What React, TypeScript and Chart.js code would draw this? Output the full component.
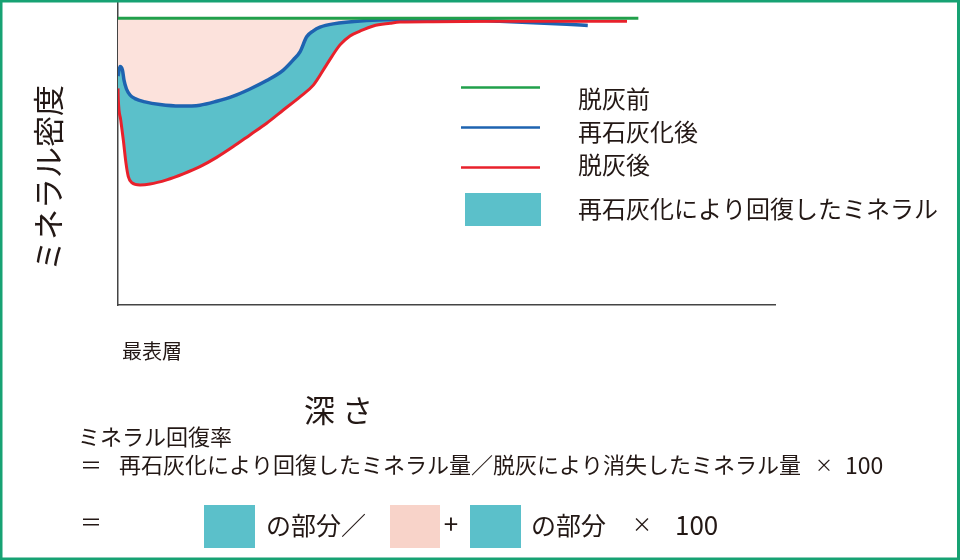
import React, { useEffect, useRef } from "react";
import { Chart, registerables } from "chart.js";

Chart.register(...registerables);

const FONT = "'Noto Sans CJK JP', 'Noto Sans', sans-serif";
const TEXT = "#231815";
const GREEN = "#21a04b";
const BLUE = "#1e63b0";
const RED = "#e8212b";
const CYAN = "#5bc0ca";
const PINK = "#fce2dc";
const PINK_BOX = "#f8d3c9";
const BORDER = "#17a273";

// Labels
const seriesLabels = ["脱灰前", "再石灰化後", "脱灰後"];
const areaLabel = "再石灰化により回復したミネラル";
const yTitle = "ミネラル密度";
const surfaceLabel = "最表層";
const xTitle = "深 さ";
const rateTitle = "ミネラル回復率";
const rateLine1 = "再石灰化により回復したミネラル量／脱灰により消失したミネラル量";
const partLabel1 = "の部分／";
const partLabel2 = "の部分";
const timesLabel = "×";
const hundredLabel = "100";

// Data: depth (0-100) vs mineral density (0-101)
const beforeDepth = [0, 79.2];
const beforeDensity = [95.6, 95.6];

const remDepth = [0, 0.3, 0.68, 0.91, 1.29, 1.83, 2.59, 4.11, 6.39, 9.44, 12.48, 15.02, 17.55, 20.09, 22.63, 25.16, 26.68, 27.7, 28.72, 29.73, 30.75, 32.77, 37.85, 42.92, 53.1, 58.1, 63.2, 68.3, 71.5];
const remDensity = [76.3, 79.5, 78.3, 75, 72, 70, 68.8, 67.7, 66.8, 66.3, 66.6, 67.9, 69.6, 72, 74.8, 78.3, 81.7, 84.4, 89.4, 91.4, 92.6, 93.7, 94.8, 95.2, 95, 94.6, 94.1, 93.6, 93.2];

const afterDepth = [0, 0.05, 0.41, 0.81, 1.22, 1.57, 2.09, 3.35, 4.87, 7.41, 9.94, 12.48, 15.02, 17.55, 20.09, 22.63, 25.16, 27.7, 29.73, 31.81, 33.79, 35.31, 36.83, 38.86, 41.4, 42.92, 47.95, 58.14, 68.34, 77.47];
const afterDensity = [72.2, 68.3, 61.7, 55, 47.2, 42.8, 40.8, 40, 40.3, 41.7, 43.7, 46.1, 49.2, 52.8, 56.7, 60.6, 65, 69.4, 73.3, 80.3, 86.7, 89.7, 91.3, 93, 93.9, 94.3, 94.4, 94.55, 94.55, 94.55];

const toPoints = (xs: number[], ys: number[]) => xs.map((x, i) => ({ x, y: ys[i] }));

const overlay = {
  id: "overlay",
  beforeDraw(chart: any) {
    const ctx = chart.ctx;
    ctx.save();
    ctx.fillStyle = "#ffffff";
    ctx.fillRect(0, 0, chart.width, chart.height);
    ctx.restore();
  },
  afterDraw(chart: any) {
    const ctx: CanvasRenderingContext2D = chart.ctx;
    ctx.save();
    const text = (s: string, x: number, y: number, size: number, align: CanvasTextAlign = "left", weight = "normal") => {
      ctx.font = `${weight} ${size}px ${FONT}`;
      ctx.fillStyle = TEXT;
      ctx.textAlign = align;
      ctx.textBaseline = "middle";
      ctx.fillText(s, x, y);
    };
    // legend
    ctx.lineWidth = 2.5;
    const legendColors = [GREEN, BLUE, RED];
    const legendLineY = [87.5, 127.5, 167.5];
    const legendTextY = [99, 132, 165];
    legendColors.forEach((c, i) => {
      ctx.strokeStyle = c;
      ctx.beginPath();
      ctx.moveTo(461, legendLineY[i]);
      ctx.lineTo(540, legendLineY[i]);
      ctx.stroke();
      text(seriesLabels[i], 578, legendTextY[i], 24);
    });
    ctx.fillStyle = CYAN;
    ctx.fillRect(465, 193, 76, 33);
    text(areaLabel, 578, 209, 24);

    // axis titles
    ctx.save();
    ctx.translate(48, 178);
    ctx.rotate(-Math.PI / 2);
    text(yTitle, 0, 0, 31, "center");
    ctx.restore();
    text(surfaceLabel, 122, 351, 20);
    text(xTitle, 304, 410, 31);

    // formula
    text(rateTitle, 78, 437, 22);
    text("＝", 80, 465, 22);
    text(rateLine1, 119, 465, 22);
    text(timesLabel, 824, 465, 18, "center");
    text(hundredLabel, 845, 465, 23);

    text("＝", 80, 522, 22);
    ctx.fillStyle = CYAN;
    ctx.fillRect(204, 505, 51, 43);
    text(partLabel1, 266, 525, 25);
    ctx.fillStyle = PINK_BOX;
    ctx.fillRect(390, 505, 50, 43);
    text("+", 451, 524, 26, "center");
    ctx.fillStyle = CYAN;
    ctx.fillRect(470, 505, 51, 43);
    text(partLabel2, 531, 525, 25);
    text(timesLabel, 642, 524, 20, "center");
    text(hundredLabel, 675, 525, 26);

    // frame border
    ctx.fillStyle = BORDER;
    ctx.fillRect(0, 0, 960, 2.5);
    ctx.fillRect(0, 0, 2.5, 560);
    ctx.fillRect(957, 0, 3, 560);
    ctx.fillRect(0, 557.5, 960, 2.5);
    ctx.restore();
  },
};

export default function App() {
  const ref = useRef<HTMLCanvasElement>(null);
  useEffect(() => {
    if (!ref.current) return;
    const chart = new Chart(ref.current, {
      type: "line",
      data: {
        datasets: [
          {
            label: seriesLabels[0],
            data: toPoints(beforeDepth, beforeDensity),
            borderColor: GREEN,
            borderWidth: 3,
            pointRadius: 0,
            fill: false,
            order: 0,
          },
          {
            label: seriesLabels[1],
            data: toPoints(remDepth, remDensity),
            borderColor: BLUE,
            borderWidth: 3.5,
            pointRadius: 0,
            cubicInterpolationMode: "monotone",
            fill: { target: 0, above: PINK, below: PINK },
            backgroundColor: PINK,
            order: 2,
          },
          {
            label: seriesLabels[2],
            data: toPoints(afterDepth, afterDensity),
            borderColor: RED,
            borderWidth: 3,
            pointRadius: 0,
            cubicInterpolationMode: "monotone",
            fill: { target: 1, above: "rgba(0,0,0,0)", below: CYAN },
            backgroundColor: CYAN,
            order: 1,
          },
        ],
      },
      options: {
        responsive: false,
        animation: false,
        devicePixelRatio: 1,
        layout: { padding: { left: 118, right: 185, top: 2, bottom: 255 } },
        plugins: {
          legend: { display: false },
          tooltip: { enabled: false },
          filler: { drawTime: "beforeDatasetsDraw" },
        },
        scales: {
          x: {
            type: "linear",
            min: 0,
            max: 100,
            ticks: { display: false },
            grid: { display: false, drawTicks: false },
            border: { display: true, color: "#444", width: 1.5 },
          },
          y: {
            type: "linear",
            min: 0,
            max: 101,
            ticks: { display: false },
            grid: { display: false, drawTicks: false },
            border: { display: true, color: "#444", width: 1.5 },
          },
        },
      },
      plugins: [overlay],
    } as any);
    return () => chart.destroy();
  }, []);
  return (
    <div style={{ position: "fixed", left: 0, top: 0, width: 960, height: 560 }}>
      <canvas ref={ref} width={960} height={560} style={{ display: "block" }} />
    </div>
  );
}
